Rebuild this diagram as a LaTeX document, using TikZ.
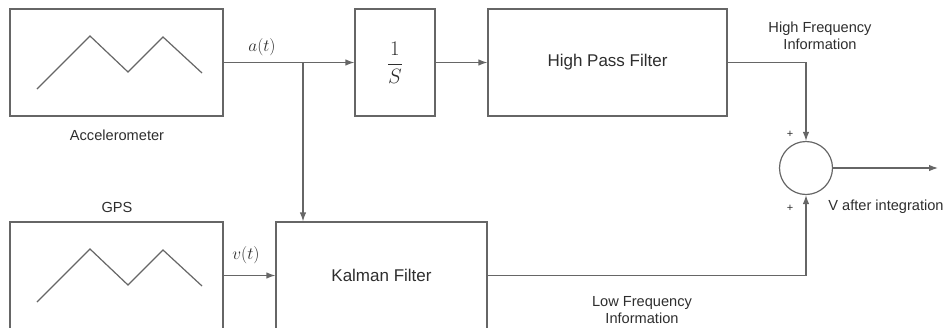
\documentclass[tikz,border=0pt]{standalone}
\usepackage{fontspec}
\setmainfont{Liberation Sans}
\usepackage{tikz}
\usetikzlibrary{arrows.meta,positioning,shapes,calc}
\definecolor{wire}{HTML}{666666}
\definecolor{ink}{HTML}{2E2E2E}
\tikzset{
  blockbox/.style={draw=wire,fill=white,line width=1.2pt,
                   inner sep=0pt,align=center,text=ink,
                   font=\fontsize{17}{20}\selectfont},
  sumnode/.style={draw=wire,circle,line width=1.2pt,minimum size=53pt,inner sep=0pt},
  lbl/.style={text=ink,align=center,inner sep=0pt,
              font=\fontsize{14.6}{17}\selectfont},
  sig/.style={text=ink,inner sep=0pt,font=\fontsize{17}{20}\selectfont},
  wirearr/.style={-{Latex[length=9pt,width=6.5pt]},draw=wire,line width=1.2pt},
  wave/.style={draw=wire,line width=1.2pt}
}
\begin{document}
\begin{tikzpicture}[x=1pt,y=-1pt]
      \useasboundingbox (0,0) rectangle (951,327);
      \clip (0,0) rectangle (951,327);

      % blocks
      \node[blockbox,minimum width=213pt,minimum height=107pt] (acc) at (116.5,62.5) {};
      \node[blockbox,minimum width=80pt,minimum height=107pt] (integ) at (395,62.5) {\fontsize{20}{24}\selectfont$\displaystyle\frac{1}{S}$};
      \node[blockbox,minimum width=239pt,minimum height=107pt] (hpf) at (607.5,62.5) {High Pass Filter};
      \node[blockbox,minimum width=213pt,minimum height=107pt] (gps) at (116.5,275.5) {};
      \node[blockbox,minimum width=211pt,minimum height=107pt] (kal) at (381.5,275.5) {Kalman Filter};
      \node[sumnode] (sum) at (806,168) {};

      % sensor traces
      \foreach \b in {acc,gps} {
        \draw[wave] ([shift={(-79.5,26.5)}]\b.center) --++(53,-53) --++(38,36) --++(35,-35) --++(39,36);
      }

      \node[lbl] (acclbl) at (117,135) {Accelerometer};
      \node[lbl] (gpslbl) at (117,207) {GPS};

      % signals
      \coordinate (split) at (303,62.5);
      \coordinate (out) at (938,168);
      \draw[wirearr] (acc.east) -- (integ.west);
      \draw[wirearr] (split) -- (split |- kal.north);
      \draw[wirearr] (integ.east) -- (hpf.west);
      \draw[wirearr] (gps.east) -- (kal.west);
      \draw[wirearr] (hpf.east) -| (sum.north);
      \draw[wirearr] (kal.east) -| (sum.south);
      \draw[wirearr] (sum.east) -- (out);

      \node[sig] (alab) at (262,47) {$a(t)$};
      \node[sig] (vlab) at (246,255) {$v(t)$};
      \node[lbl] (hilab) at (820,36) {High Frequency\\Information};
      \node[lbl] (lolab) at (642,310) {Low Frequency\\Information};
      \node[lbl] (vout) at (886,207) {V after integration};
      \node[lbl,font=\fontsize{11}{12}\selectfont] (ptop) at (790,134) {+};
      \node[lbl,font=\fontsize{11}{12}\selectfont] (pbot) at (790,208) {+};
    \end{tikzpicture}
\end{document}
